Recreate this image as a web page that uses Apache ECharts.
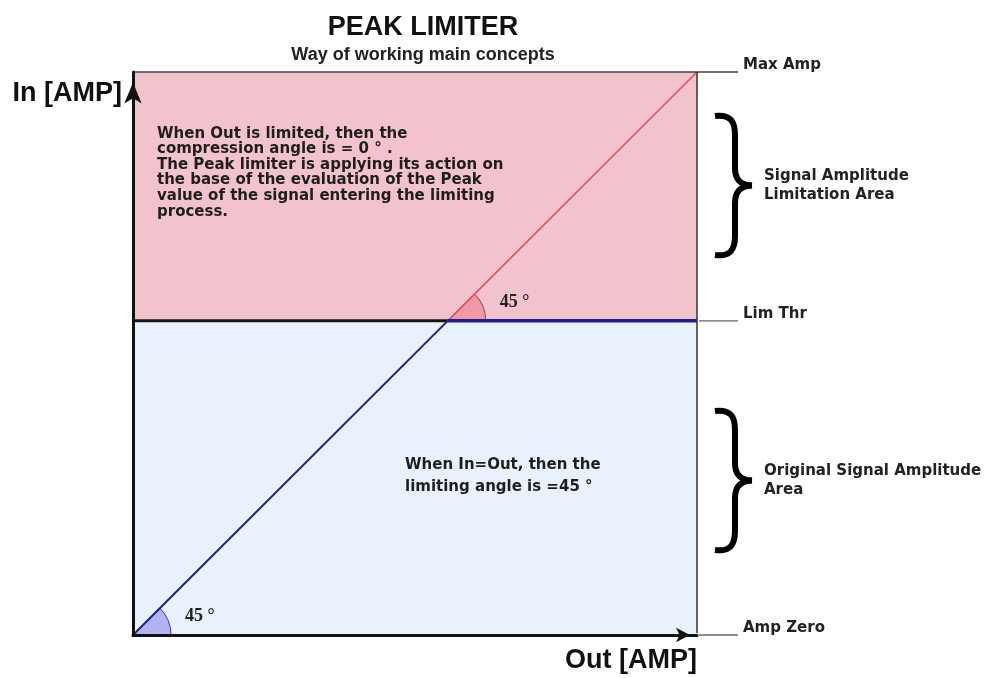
<!DOCTYPE html>
<html><head><meta charset="utf-8">
<script src="https://cdn.jsdelivr.net/npm/echarts@6/dist/echarts.min.js"></script>
<style>html,body{margin:0;padding:0;background:#fff}#c{width:990px;height:678px}</style>
</head><body><div id="c"></div>
<script>
// ---- data ----
const outRange = [0, 1];
const inRange = [0, 1];
const ampZero = 0;
const limThr = 0.558;
const maxAmp = 1;
const linearSeg = [[0, 0], [0.558, 0.558]];
const limitedSeg = [[0.558, 0.558], [1, 0.558]];
const unlimitedSeg = [[0.558, 0.558], [1, 1]];
const thresholdIn = [[0, 0.558], [0.558, 0.558]];
const angleMarks = [[0, 0, 45], [0.558, 0.558, 45]];
const angleLabels = ['45 °', '45 °'];
const levelNames = ['Max Amp', 'Lim Thr', 'Amp Zero'];
const levelValues = [1, 0.558, 0];
const titleText = 'PEAK LIMITER';
const subtitleText = 'Way of working main concepts';
const yName = 'In [AMP]';
const xName = 'Out [AMP]';
const areaNames = ['Signal Amplitude\nLimitation Area', 'Original Signal Amplitude\nArea'];
const noteLimited = 'When Out is limited, then the\ncompression angle is = 0 ° .\nThe Peak limiter is applying its action on\nthe base of the evaluation of the Peak\nvalue of the signal entering the limiting\nprocess.';
const noteLinear = 'When In=Out, then the\nlimiting angle is =45 °';

// ---- style ----
const SANS = '"DejaVu Sans", Verdana, sans-serif';
const ARIAL = '"Liberation Sans", Arial, sans-serif';
const SERIF = '"Liberation Serif", "Times New Roman", serif';
const wedgeStyles = [
  {fill: '#b3b3f2', stroke: '#3a3a9a'},
  {fill: '#f09aa8', stroke: '#a8344a'}
];

const chart = echarts.init(document.getElementById('c'), null, {renderer: 'canvas'});

const axisCommon = {
  type: 'value', z: 20, splitLine: {show: false}, axisTick: {show: false}, axisLabel: {show: false}
};

const option = {
  animation: false,
  backgroundColor: '#ffffff',
  title: {
    text: titleText, subtext: subtitleText, left: 423, top: 14, textAlign: 'center', itemGap: 5, padding: 0,
    textStyle: {fontFamily: ARIAL, fontWeight: 'bold', fontSize: 27, color: '#111'},
    subtextStyle: {fontFamily: ARIAL, fontWeight: 'bold', fontSize: 18, color: '#222'}
  },
  grid: {left: 133, right: 293, top: 72, bottom: 43, containLabel: false},
  xAxis: Object.assign({}, axisCommon, {
    min: outRange[0], max: outRange[1],
    axisLine: {show: true, onZero: false, lineStyle: {color: '#111', width: 3},
      symbol: ['none', 'arrow'], symbolSize: [11, 14], symbolOffset: [0, -7]}
  }),
  yAxis: Object.assign({}, axisCommon, {
    min: inRange[0], max: inRange[1],
    axisLine: {show: true, onZero: false, lineStyle: {color: '#111', width: 3},
      symbol: ['none', 'arrow'], symbolSize: [13, 21], symbolOffset: [0, -10.5]}
  }),
  series: [
    {
      type: 'line', name: 'threshold', data: thresholdIn, z: 4, symbol: 'none', silent: true,
      lineStyle: {color: '#151515', width: 3},
      markArea: {
        silent: true,
        data: [
          [{coord: [outRange[0], limThr], itemStyle: {color: '#f2c3cc'}}, {coord: [outRange[1], maxAmp]}],
          [{coord: [outRange[0], ampZero], itemStyle: {color: '#e9f2fc'}}, {coord: [outRange[1], limThr]}]
        ]
      }
    },
    {
      type: 'custom', name: 'angles', data: angleMarks, z: 3, silent: true,
      renderItem: function (params, api) {
        const c = api.coord([api.value(0), api.value(1)]);
        const a = api.value(2) * Math.PI / 180;
        const st = wedgeStyles[params.dataIndex];
        return {
          type: 'group',
          children: [
            {type: 'sector', shape: {cx: c[0], cy: c[1], r0: 0, r: 38, startAngle: -a, endAngle: 0, clockwise: true},
              style: {fill: st.fill, stroke: st.stroke, lineWidth: 1}},
            {type: 'text', x: c[0] + 52, y: c[1] - 19,
              style: {text: angleLabels[params.dataIndex], fill: '#222', fontFamily: SERIF, fontWeight: 'bold', fontSize: 18,
                align: 'left', verticalAlign: 'middle'}}
          ]
        };
      }
    },
    {
      type: 'line', name: 'unlimited', data: unlimitedSeg, z: 5, symbol: 'none', silent: true,
      lineStyle: {color: '#e4505e', width: 1.6}
    },
    {
      type: 'line', name: 'linear', data: linearSeg, z: 6, symbol: 'none', silent: true,
      lineStyle: {color: '#1e1e88', width: 2}
    },
    {
      type: 'line', name: 'limited', data: limitedSeg, z: 6, symbol: 'none', silent: true,
      lineStyle: {color: '#1e1e90', width: 3.5}
    }
  ]
};
chart.setOption(option);

// ---- annotations positioned from the axes ----
const P = v => chart.convertToPixel({gridIndex: 0}, v);
const pTopLeft = P([outRange[0], maxAmp]);
const pTopRight = P([outRange[1], maxAmp]);
const pBotRight = P([outRange[1], ampZero]);
const extLen = 41;
const graphics = [];
// top and right frame
graphics.push({type: 'line', z: 10, shape: {x1: pTopLeft[0], y1: pTopLeft[1], x2: pTopRight[0] + extLen, y2: pTopRight[1]},
  style: {stroke: '#444', lineWidth: 1.5}});
graphics.push({type: 'line', z: 10, shape: {x1: pTopRight[0], y1: pTopRight[1], x2: pBotRight[0], y2: pBotRight[1] - 2},
  style: {stroke: '#333', lineWidth: 1.5}});
levelValues.forEach(function (v, i) {
  const p = P([outRange[1], v]);
  if (i > 0) {
    graphics.push({type: 'line', z: 10, shape: {x1: p[0] + 2, y1: p[1], x2: p[0] + extLen, y2: p[1]},
      style: {stroke: '#666', lineWidth: 1.3}});
  }
  graphics.push({type: 'text', z: 10, x: p[0] + 46, y: p[1] - 7,
    style: {text: levelNames[i], fill: '#222', fontFamily: SANS, fontWeight: 'bold', fontSize: 15, align: 'left', verticalAlign: 'middle'}});
});
// axis names
graphics.push({type: 'text', z: 10, x: pTopLeft[0] - 11, y: 94,
  style: {text: yName, fill: '#111', fontFamily: ARIAL, fontWeight: 'bold', fontSize: 27, align: 'right', verticalAlign: 'middle'}});
graphics.push({type: 'text', z: 10, x: pBotRight[0], y: 661,
  style: {text: xName, fill: '#111', fontFamily: ARIAL, fontWeight: 'bold', fontSize: 27, align: 'right', verticalAlign: 'middle'}});
// notes
graphics.push({type: 'text', z: 10, x: 157, y: 126,
  style: {text: noteLimited, fill: '#1e1e1e', fontFamily: SANS, fontWeight: 'bold', fontSize: 15, lineHeight: 15.6, align: 'left', verticalAlign: 'top'}});
graphics.push({type: 'text', z: 10, x: 405, y: 454,
  style: {text: noteLinear, fill: '#1e1e1e', fontFamily: SANS, fontWeight: 'bold', fontSize: 15, lineHeight: 22, align: 'left', verticalAlign: 'top'}});
// braces (cubic curves + straight stems) and area names
function brace(x0, y0) {
  const s = {fill: 'none', stroke: '#000', lineWidth: 6};
  const seg = [
    ['bezierCurve', {x1: 1, y1: 3, cpx1: 16, cpy1: 1, cpx2: 21, cpy2: 8, x2: 21, y2: 22}],
    ['line', {x1: 21, y1: 21, x2: 21, y2: 56}],
    ['bezierCurve', {x1: 21, y1: 55, cpx1: 21, cpy1: 67, cpx2: 27, cpy2: 72, x2: 38, y2: 72.5}],
    ['bezierCurve', {x1: 38, y1: 72.5, cpx1: 27, cpy1: 73, cpx2: 21, cpy2: 78, x2: 21, y2: 90}],
    ['line', {x1: 21, y1: 89, x2: 21, y2: 124}],
    ['bezierCurve', {x1: 21, y1: 123, cpx1: 21, cpy1: 137, cpx2: 16, cpy2: 144, x2: 1, y2: 142}]
  ];
  return {type: 'group', x: x0, y: y0, z: 10,
    children: seg.map(d => ({type: d[0], shape: d[1], style: s}))};
}
[[714, 113], [714, 408]].forEach(function (pos, i) {
  graphics.push(brace(pos[0], pos[1]));
  graphics.push({type: 'text', z: 10, x: 764, y: pos[1] + 54,
    style: {text: areaNames[i], fill: '#222', fontFamily: SANS, fontWeight: 'bold', fontSize: 15, lineHeight: 19, align: 'left', verticalAlign: 'top'}});
});
chart.setOption({graphic: graphics});
</script></body></html>
